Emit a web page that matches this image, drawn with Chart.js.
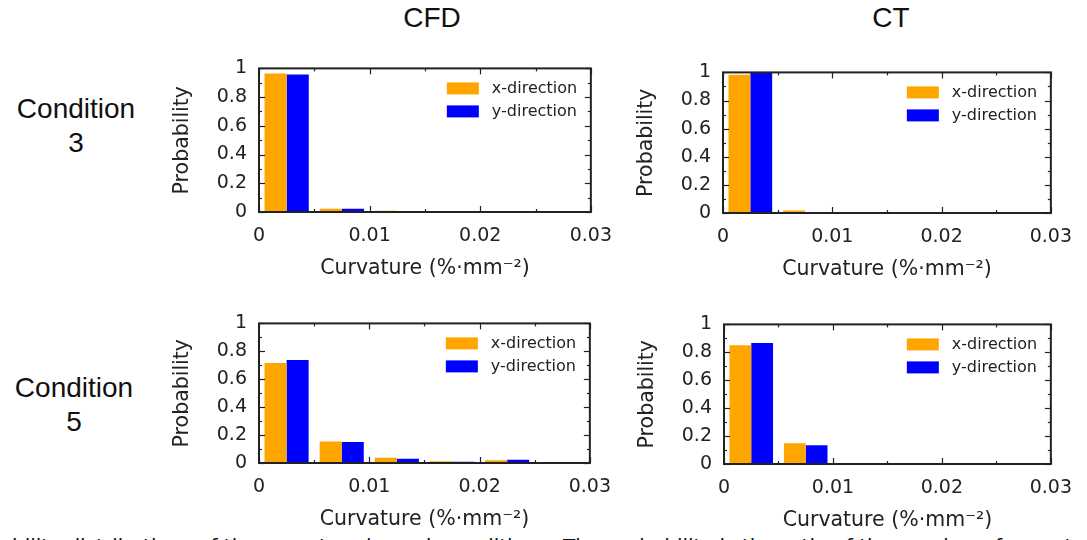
<!DOCTYPE html>
<html>
<head>
<meta charset="utf-8">
<script src="https://cdn.jsdelivr.net/npm/chart.js@4"></script>
<style>
    body { margin: 0; background: #fff; width: 1087px; height: 540px; overflow: hidden; position: relative; }
    .panel { position: absolute; }
    .head { position: absolute; font-family: "Liberation Sans", Arial, sans-serif; font-size: 28px; color: #111; text-align: center; line-height: 34px; }
    .caption { position: absolute; left: 12px; top: 534px; font-family: "DejaVu Sans", sans-serif; font-size: 20px; color: #111; white-space: nowrap; }
</style>
</head>
<body>
<div class="caption">bility distributions of the curvature in each condition.&nbsp;&nbsp;&nbsp;The probability is the ratio of the number of curvature values in each bin</div>

<div class="head" style="left:382px; top:1px; width:100px;">CFD</div>
<div class="head" style="left:841px; top:1px; width:100px;">CT</div>
<div class="head" style="left:0px; top:92px; width:152px;">Condition<br>3</div>
<div class="head" style="left:-2px; top:371px; width:152px;">Condition<br>5</div>

<div class="panel" id="p1"><canvas id="c1"></canvas></div>
<div class="panel" id="p2"><canvas id="c2"></canvas></div>
<div class="panel" id="p3"><canvas id="c3"></canvas></div>
<div class="panel" id="p4"><canvas id="c4"></canvas></div>

<script>
// Histogram bins (centres, width 0.005)
const binCenters = [0.0025, 0.0075, 0.0125, 0.0175, 0.0225, 0.0275];

// Condition 3
const cfd3X = [0.964, 0.022, 0.008, 0, 0, 0];
const cfd3Y = [0.957, 0.022, 0.007, 0, 0, 0];
const ct3X  = [0.984, 0.018, 0, 0, 0, 0];
const ct3Y  = [0.998, 0, 0, 0, 0, 0];

// Condition 5
const cfd5X = [0.717, 0.154, 0.037, 0.013, 0.020, 0.005];
const cfd5Y = [0.737, 0.150, 0.030, 0.009, 0.024, 0];
const ct5X  = [0.850, 0.148, 0, 0, 0, 0];
const ct5Y  = [0.866, 0.135, 0, 0, 0, 0];

// Ticks
const xTickLabels = ['0', '0.01', '0.02', '0.03'];
const yTickLabels = ['0', '0.2', '0.4', '0.6', '0.8', '1'];
const xMajor = [0, 0.01, 0.02, 0.03];
const xMinor = [0.005, 0.015, 0.025];
const yMajor = [0, 0.2, 0.4, 0.6, 0.8, 1];
const yMinor = [0.1, 0.3, 0.5, 0.7, 0.9];

const seriesNames = ['x-direction', 'y-direction'];
const seriesColors = ['#FFA500', '#0000FF'];

const Y_AXIS_W = 94, X_AXIS_H = 75, PAD_TOP = 10, PAD_RIGHT = 27;

// Frame, inward tick marks and legend inside the plot area
const frameTicks = {
    id: 'frameTicks',
    afterDatasetsDraw(chart) {
        const { ctx, chartArea: a, scales: { x, y } } = chart;
        ctx.save();
        ctx.strokeStyle = '#222';
        ctx.lineWidth = 1.2;
        const line = (x1, y1, x2, y2) => {
            ctx.beginPath(); ctx.moveTo(x1, y1); ctx.lineTo(x2, y2); ctx.stroke();
        };
        yMajor.concat(yMinor).forEach((v, i) => {
            const len = i < yMajor.length ? 6 : 3;
            const py = Math.round(y.getPixelForValue(v)) + 0.5;
            line(a.left, py, a.left + len, py);
            line(a.right, py, a.right - len, py);
        });
        xMajor.concat(xMinor).forEach((v, i) => {
            const len = i < xMajor.length ? 6 : 3;
            const px = Math.round(x.getPixelForValue(v)) + 0.5;
            line(px, a.bottom, px, a.bottom - len);
            line(px, a.top, px, a.top + len);
        });
        ctx.lineWidth = 2;
        ctx.strokeRect(a.left, a.top, a.right - a.left, a.bottom - a.top);

        ctx.font = '16px "DejaVu Sans", sans-serif';
        ctx.textBaseline = 'middle';
        chart.data.datasets.forEach((ds, i) => {
            const bx = a.right - 144, by = a.top + 14 + i * 23;
            ctx.fillStyle = ds.backgroundColor;
            ctx.fillRect(bx, by, 32, 12);
            ctx.fillStyle = '#222';
            ctx.fillText(ds.label, bx + 45, by + 6);
        });
        ctx.restore();
    }
};

function makePanel(id, canvasId, box, xVals, yVals) {
    const wrap = document.getElementById(id);
    const left = box.left - Y_AXIS_W, top = box.top - PAD_TOP;
    const w = (box.right - box.left) + Y_AXIS_W + PAD_RIGHT;
    const h = (box.bottom - box.top) + PAD_TOP + X_AXIS_H;
    wrap.style.left = left + 'px';
    wrap.style.top = top + 'px';
    const canvas = document.getElementById(canvasId);
    canvas.width = w;
    canvas.height = h;

    const tickFont = { family: '"DejaVu Sans", sans-serif', size: 19 };
    const titleFont = { family: '"DejaVu Sans", sans-serif', size: 20.5 };

    new Chart(canvas.getContext('2d'), {
        type: 'bar',
        data: {
            datasets: [xVals, yVals].map((vals, k) => ({
                label: seriesNames[k],
                data: binCenters.map((c, i) => ({ x: c, y: vals[i] })),
                backgroundColor: seriesColors[k],
                borderWidth: 0,
                categoryPercentage: 0.8,
                barPercentage: 1.0
            }))
        },
        options: {
            responsive: false,
            animation: false,
            layout: { padding: { top: PAD_TOP, right: PAD_RIGHT, left: 0, bottom: 0 } },
            plugins: {
                legend: { display: false },
                tooltip: { enabled: false }
            },
            scales: {
                x: {
                    type: 'linear',
                    min: 0,
                    max: 0.03,
                    offset: false,
                    grid: { display: false, drawTicks: false },
                    border: { display: false },
                    ticks: {
                        stepSize: 0.01,
                        padding: 13,
                        color: '#222',
                        font: tickFont,
                        maxRotation: 0,
                        autoSkip: false,
                        callback: (v, i) => xTickLabels[i] ?? v
                    },
                    title: {
                        display: true,
                        text: 'Curvature (%·mm⁻²)',
                        color: '#222',
                        font: titleFont,
                        padding: { top: 4, bottom: 6 }
                    },
                    afterFit: s => { s.height = X_AXIS_H; }
                },
                y: {
                    min: 0,
                    max: 1,
                    grid: { display: false, drawTicks: false },
                    border: { display: false },
                    ticks: {
                        stepSize: 0.2,
                        padding: 12,
                        color: '#222',
                        font: tickFont,
                        callback: (v, i) => yTickLabels[i] ?? v
                    },
                    title: {
                        display: true,
                        text: 'Probability',
                        color: '#222',
                        font: titleFont,
                        padding: { top: 5, bottom: 4 }
                    },
                    afterFit: s => { s.width = Y_AXIS_W; }
                }
            }
        },
        plugins: [frameTicks]
    });
}

makePanel('p1', 'c1', { left: 259, top: 55, right: 598, bottom: 212 }, cfd3X, cfd3Y);
makePanel('p2', 'c2', { left: 723, top: 59, right: 1058, bottom: 213 }, ct3X, ct3Y);
makePanel('p3', 'c3', { left: 259, top: 310, right: 597, bottom: 463 }, cfd5X, cfd5Y);
makePanel('p4', 'c4', { left: 724, top: 311, right: 1058, bottom: 464 }, ct5X, ct5Y);
</script>
</body>
</html>
